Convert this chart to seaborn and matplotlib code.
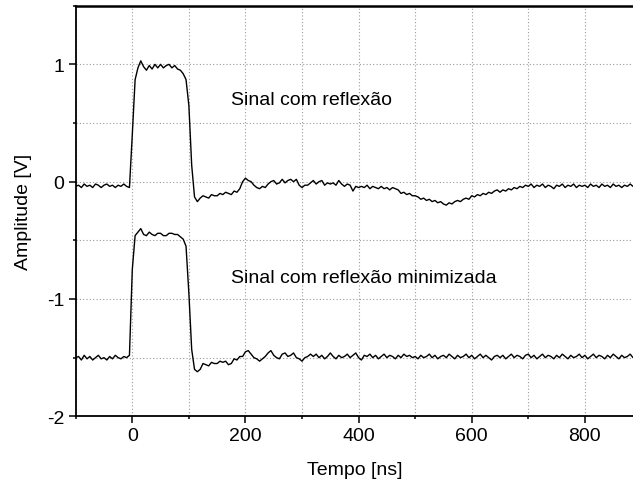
import numpy as np
import matplotlib
matplotlib.use("Agg")
import matplotlib.pyplot as plt
from matplotlib.ticker import MultipleLocator
import seaborn as sns

# ---------- dados (amostras a cada 5 ns, de -100 a 885 ns) ----------
tempo_ns = np.arange(-100, 886, 5)

# Sinal com reflexão [V]
sinal_reflexao = [
    -0.04, -0.03, -0.05, -0.02, -0.04, -0.03, -0.05, -0.02, -0.03, -0.05,   # -100
    -0.03, -0.02, -0.04, -0.03, -0.05, -0.03, -0.04, -0.02, -0.04, -0.05,   # -50
    0.40, 0.87, 0.97, 1.03, 0.98, 0.95, 0.99, 0.96, 1.00, 0.97,             # 0
    1.00, 0.97, 0.99, 1.00, 0.97, 0.99, 0.96, 0.95, 0.92, 0.87,             # 50
    0.65, 0.14, -0.13, -0.17, -0.14, -0.12, -0.13, -0.14, -0.11, -0.12,     # 100
    -0.12, -0.10, -0.11, -0.09, -0.10, -0.11, -0.08, -0.09, -0.06, 0.00,    # 150
    0.03, 0.01, 0.00, -0.03, -0.05, -0.06, -0.04, -0.05, -0.02, 0.00,       # 200
    0.01, -0.02, -0.01, 0.02, -0.01, 0.01, 0.02, 0.00, 0.02, -0.03,         # 250
    -0.05, -0.03, -0.03, -0.01, 0.01, -0.02, 0.00, 0.01, -0.03, -0.01,      # 300
    -0.02, -0.01, -0.03, 0.01, -0.02, -0.04, -0.02, -0.03, -0.08, -0.04,    # 350
    -0.05, -0.04, -0.05, -0.03, -0.06, -0.04, -0.05, -0.06, -0.04, -0.06,   # 400
    -0.05, -0.07, -0.05, -0.06, -0.07, -0.10, -0.09, -0.11, -0.10, -0.12,   # 450
    -0.12, -0.13, -0.15, -0.14, -0.16, -0.15, -0.17, -0.16, -0.18, -0.17,   # 500
    -0.19, -0.20, -0.18, -0.19, -0.17, -0.16, -0.17, -0.15, -0.14, -0.15,   # 550
    -0.12, -0.13, -0.11, -0.12, -0.10, -0.11, -0.09, -0.10, -0.08, -0.07,   # 600
    -0.09, -0.07, -0.08, -0.06, -0.07, -0.05, -0.06, -0.04, -0.05, -0.03,   # 650
    -0.04, -0.02, -0.05, -0.03, -0.04, -0.02, -0.05, -0.03, -0.04, -0.06,   # 700
    -0.03, -0.04, -0.02, -0.05, -0.03, -0.04, -0.02, -0.05, -0.03, -0.04,   # 750
    -0.03, -0.05, -0.02, -0.04, -0.03, -0.05, -0.02, -0.04, -0.03, -0.05,   # 800
    -0.02, -0.04, -0.03, -0.05, -0.03, -0.04, -0.02, -0.04,                 # 850
]

# Sinal com reflexão minimizada [V]
sinal_minimizado = [
    -1.50, -1.49, -1.52, -1.48, -1.51, -1.49, -1.52, -1.50, -1.48, -1.51,   # -100
    -1.50, -1.52, -1.49, -1.51, -1.48, -1.50, -1.51, -1.49, -1.50, -1.48,   # -50
    -0.75, -0.46, -0.43, -0.40, -0.45, -0.46, -0.43, -0.45, -0.46, -0.44,   # 0
    -0.44, -0.46, -0.46, -0.44, -0.44, -0.45, -0.45, -0.47, -0.49, -0.55,   # 50
    -0.95, -1.43, -1.60, -1.62, -1.60, -1.55, -1.56, -1.57, -1.54, -1.55,   # 100
    -1.55, -1.53, -1.54, -1.53, -1.56, -1.55, -1.51, -1.52, -1.49, -1.49,   # 150
    -1.45, -1.44, -1.47, -1.50, -1.51, -1.53, -1.51, -1.49, -1.46, -1.44,   # 200
    -1.48, -1.50, -1.51, -1.47, -1.46, -1.49, -1.48, -1.46, -1.50, -1.51,   # 250
    -1.53, -1.50, -1.49, -1.47, -1.49, -1.47, -1.50, -1.48, -1.51, -1.49,   # 300
    -1.46, -1.49, -1.51, -1.48, -1.50, -1.49, -1.47, -1.50, -1.48, -1.46,   # 350
    -1.50, -1.52, -1.48, -1.49, -1.47, -1.50, -1.48, -1.51, -1.49, -1.47,   # 400
    -1.50, -1.48, -1.49, -1.51, -1.48, -1.50, -1.47, -1.49, -1.48, -1.50,   # 450
    -1.49, -1.51, -1.48, -1.50, -1.49, -1.47, -1.50, -1.48, -1.51, -1.49,   # 500
    -1.48, -1.50, -1.47, -1.49, -1.51, -1.48, -1.50, -1.49, -1.47, -1.50,   # 550
    -1.48, -1.51, -1.49, -1.47, -1.50, -1.48, -1.50, -1.52, -1.49, -1.48,   # 600
    -1.50, -1.48, -1.51, -1.49, -1.47, -1.50, -1.48, -1.49, -1.51, -1.48,   # 650
    -1.47, -1.50, -1.48, -1.51, -1.49, -1.47, -1.50, -1.48, -1.49, -1.51,   # 700
    -1.48, -1.50, -1.47, -1.49, -1.51, -1.48, -1.50, -1.49, -1.47, -1.50,   # 750
    -1.48, -1.51, -1.49, -1.47, -1.50, -1.48, -1.49, -1.51, -1.48, -1.50,   # 800
    -1.47, -1.49, -1.51, -1.48, -1.50, -1.49, -1.47, -1.50,                 # 850
]

rotulos = ["Sinal com reflexão", "Sinal com reflexão minimizada"]
pos_rotulos = [(175, 0.665), (175, -0.855)]

# ---------- estilo ----------
sns.set_style("ticks")
plt.rcParams["font.family"] = ["Liberation Sans", "DejaVu Sans"]
plt.rcParams["font.size"] = 14
plt.rcParams["axes.unicode_minus"] = False
for chave in ["text.color", "axes.labelcolor", "xtick.color", "ytick.color"]:
    plt.rcParams[chave] = "black"

fig = plt.figure(figsize=(6.33, 4.89), dpi=100)
ax = fig.add_axes([0.1196, 0.1466, 0.8804, 0.8397])

sns.lineplot(x=tempo_ns, y=sinal_reflexao, color="black", lw=1.0, ax=ax)
sns.lineplot(x=tempo_ns, y=sinal_minimizado, color="black", lw=1.0, ax=ax)

for txt, (xp, yp) in zip(rotulos, pos_rotulos):
    ax.text(xp, yp, txt, fontsize=14, va="baseline", ha="left")

ax.set_xlim(-100, 885)
ax.set_ylim(-2, 1.5)
ax.xaxis.set_major_locator(MultipleLocator(200))
ax.xaxis.set_minor_locator(MultipleLocator(100))
ax.yaxis.set_major_locator(MultipleLocator(1))
ax.yaxis.set_minor_locator(MultipleLocator(0.5))

ax.grid(which="both", linestyle=(0, (1, 2)), color="#9a9a9a", lw=0.8)
ax.tick_params(which="major", direction="out", length=5, width=1.1, labelsize=14, pad=3)
ax.tick_params(which="minor", direction="out", length=2.5, width=1.1)

for side in ["left", "bottom", "top"]:
    ax.spines[side].set_linewidth(1.3)
    ax.spines[side].set_color("black")
ax.spines["top"].set_linewidth(1.8)
ax.spines["right"].set_visible(False)

ax.set_xlabel("Tempo [ns]", fontsize=14, labelpad=12)
ax.set_ylabel("Amplitude [V]", fontsize=14, labelpad=11)

fig.savefig("out.png", dpi=100)
